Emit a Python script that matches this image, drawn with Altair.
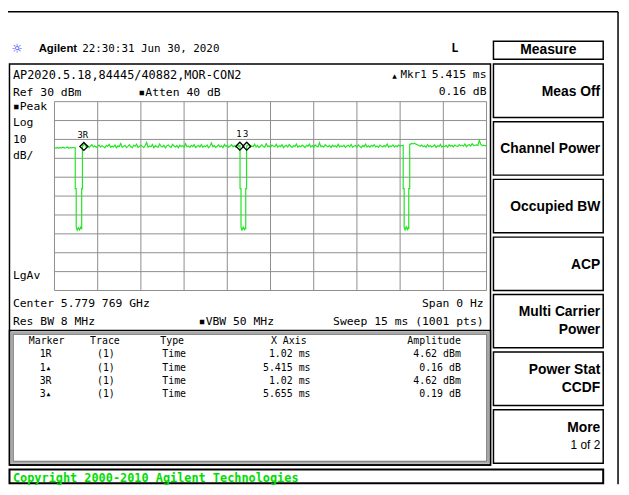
import altair as alt
import pandas as pd

SWEEP_MS = 15.0
# trace level (dBm) sampled every 0.05 ms; None where a burst gap replaces it
level_dbm = [
    5.6, 5.4, 5.8, 5.3, 5.7, 5.5, 5.9, 5.4, 5.6, 6.0, 5.3, 5.7, 5.5, 5.8, 5.6, None, None, None, None, None,
    6.9, 7.6, 6.1, 6.8, 5.7, 6.5, 7.2, 6.0, 6.6, 5.8, 6.4, 7.0, 5.9, 6.7, 6.2, 5.6, 6.9, 6.3, 7.4, 5.8,
    6.5, 6.0, 7.1, 5.5, 6.6, 6.2, 7.8, 5.9, 6.4, 6.8, 5.7, 6.3, 7.2, 6.1, 5.6, 6.9, 6.4, 7.5, 5.8, 6.2,
    7.0, 6.3, 5.7, 6.8, 8.4, 5.9, 6.5, 6.1, 7.3, 5.6, 6.7, 6.2, 5.9, 7.6, 6.4, 6.0, 6.9, 5.5, 6.6, 7.1,
    6.2, 5.8, 7.4, 6.5, 6.0, 6.8, 5.6, 7.0, 6.3, 6.7, 5.9, 7.7, 6.1, 6.5, 5.8, 6.9, 6.2, 7.2, 5.7, 6.4,
    6.8, 6.0, 7.3, 5.9, 6.6, 6.2, 7.0, 5.6, 6.5, 8.1, 6.1, 6.7, 5.8, 6.4, 7.1, 6.0, 6.6, 5.7, 7.4, 6.3,
    6.9, 5.9, 6.5, 7.2, 6.1, 6.7, 5.8, 7.0, 6.4, None, None, None, None, None, 6.8, 7.3, 5.9, 6.6, 6.2, 7.5,
    6.0, 6.8, 5.7, 6.4, 7.1, 6.2, 5.9, 7.8, 6.3, 6.6, 5.8, 7.0, 6.5, 6.1, 7.4, 5.9, 6.7, 6.2, 7.2, 5.6,
    6.5, 6.9, 6.0, 7.3, 6.4, 5.8, 6.8, 6.2, 7.6, 5.9, 6.6, 6.1, 7.0, 6.4, 5.7, 6.9, 6.3, 7.5, 6.0, 6.7,
    5.8, 7.1, 6.4, 6.0, 8.2, 6.2, 6.6, 5.9, 7.2, 6.5, 6.1, 6.8, 5.7, 7.0, 6.3, 6.7, 5.9, 7.4, 6.1, 6.6,
    6.2, 7.0, 5.8, 6.5, 6.9, 6.1, 7.3, 5.9, 6.4, 6.8, 6.0, 7.1, 6.3, 5.7, 6.7, 6.2, 7.5, 6.0, 6.6, 5.9,
    6.9, 6.3, 7.2, 6.0, 6.5, 5.8, 7.0, 6.4, 6.1, 6.8, 6.2, 7.6, 5.9, 6.6, 6.3, 7.1, 6.0, 6.7, 6.2, 7.0,
    6.4, 6.8, 6.9, None, None, None, None, 7.4, 7.9, 7.6, 8.0, 7.5, 7.2, 6.8, 6.4, 7.0, 6.1, 6.6, 5.9, 7.3,
    6.2, 6.8, 6.0, 6.5, 7.1, 5.8, 6.7, 6.3, 7.4, 6.0, 6.6, 6.2, 6.9, 5.9, 7.2, 6.4, 6.8, 6.1, 7.0, 6.5,
    6.2, 7.3, 6.6, 7.0, 6.4, 7.6, 6.1, 6.9, 7.2, 6.5, 7.8, 6.7, 6.9, 7.1, 6.8, 9.6, 7.4, 6.8, 7.0, 6.6,
    6.8,
]
# the three burst gaps (time ms, level dBm)
gap1_t = [0.721, 0.721, 0.755, 0.755, 0.79, 0.83, 0.87, 0.91, 0.945, 0.945, 0.971, 0.971]
gap1_v = [5.6, -16.0, -16.0, -36.4, -38.1, -36.7, -37.9, -36.5, -37.6, -16.0, -16.0, 6.9]
gap2_t = [6.442, 6.442, 6.476, 6.476, 6.51, 6.55, 6.59, 6.62, 6.64, 6.64, 6.669, 6.669]
gap2_v = [6.8, -16.0, -16.0, -36.6, -38.0, -36.4, -37.8, -36.9, -37.5, -16.0, -16.0, 6.5]
gap3_t = [12.106, 12.106, 12.14, 12.14, 12.17, 12.21, 12.25, 12.28, 12.30, 12.30, 12.333, 12.333]
gap3_v = [6.9, -16.0, -16.0, -36.5, -37.9, -36.3, -37.7, -36.6, -37.4, -16.0, -16.0, 7.4]

grid_ms = [0, 1.5, 3, 4.5, 6, 7.5, 9, 10.5, 12, 13.5, 15]
grid_dbm = [-70, -60, -50, -40, -30, -20, -10, 0, 10, 20, 30]

marker_ms = [1.02, 6.435, 6.675]
marker_dbm = [6.3, 6.4, 6.4]
marker_lbl = ["3R", "1", "3"]

tbl_marker = ["1R", "1▴", "3R", "3▴"]
tbl_trace = ["(1)", "(1)", "(1)", "(1)"]
tbl_type = ["Time", "Time", "Time", "Time"]
tbl_x = ["1.02 ms", "5.415 ms", "1.02 ms", "5.655 ms"]
tbl_amp = ["4.62 dBm", "0.16 dB", "4.62 dBm", "0.19 dB"]

softkeys = [["Meas Off"], ["Channel Power"], ["Occupied BW"], ["ACP"],
            ["Multi Carrier", "Power"], ["Power Stat", "CCDF"], ["More", "1 of 2"]]

# ---------------- build trace table ----------------
rows = []
for i, v in enumerate(level_dbm):
    if v is not None:
        rows.append((i * SWEEP_MS / 300, 0, v))
for gt, gv in ((gap1_t, gap1_v), (gap2_t, gap2_v), (gap3_t, gap3_v)):
    for j, (t, v) in enumerate(zip(gt, gv)):
        rows.append((t, j, v))
rows.sort(key=lambda r: (r[0], r[1]))
trace = pd.DataFrame({"t": [r[0] for r in rows], "v": [r[2] for r in rows],
                      "k": list(range(len(rows)))})
markers = pd.DataFrame({"t": marker_ms, "v": marker_dbm, "lbl": marker_lbl})

# ---------------- layout helpers ----------------
OX, OY = 8, 8
MONO = "DejaVu Sans Mono"
SANS = "Liberation Sans"
W, H = 620, 479

xs = alt.Scale(domain=[0, 15], range=[55 - OX, 492 - OX], nice=False, zero=False)
ys = alt.Scale(domain=[-70, 30], range=[291 - OY, 100 - OY], nice=False, zero=False)

base = alt.Chart(pd.DataFrame({"d": [0]}))


def T(s, x, y, size=11.5, align="left", font=MONO, weight="normal", color="black"):
    return base.mark_text(text=s, align=align, baseline="middle", font=font,
                          fontSize=size, fontWeight=weight, color=color).encode(
        x=alt.value(x - OX), y=alt.value(y - OY))


def R(x1, y1, x2, y2, sw=1.5, color="black"):
    return base.mark_rect(fillOpacity=0, stroke=color, strokeWidth=sw).encode(
        x=alt.value(x1 - OX), x2=alt.value(x2 - OX), y=alt.value(y1 - OY), y2=alt.value(y2 - OY))


def L(x1, y1, x2, y2, sw=1.5, color="black"):
    return base.mark_rule(color=color, strokeWidth=sw).encode(
        x=alt.value(x1), x2=alt.value(x2), y=alt.value(y1), y2=alt.value(y2))


layers = []
# outer screen lines
layers.append(L(0, 1, W - 3, 1, 1.5))
layers.append(L(W - 3, 1, W - 3, H, 1.5))
# main display box and table box
layers.append(R(9.5, 62, 496, 467.5, 1.5))
layers.append(R(9.5, 331.5, 496, 467.5, 1.5))
layers.append(R(11.8, 333.8, 493.7, 465.2, 2, "#a8a8a8"))
layers.append(R(13.3, 335.3, 492.2, 463.7, 0.8, "#444444"))
# right column
layers.append(R(499, 39, 610, 57, 1.5))
tops = [62, 120.3, 178.6, 237, 295, 353.3, 411.7]
for top in tops:
    layers.append(R(499, top, 610, top + 54, 1.5))
# copyright bar
layers.append(R(9.5, 472, 610, 486, 2))

# graticule
layers.append(alt.Chart(pd.DataFrame({"g": grid_ms})).mark_rule(color="#8e8e8e", strokeWidth=1).encode(
    x=alt.X("g:Q", scale=xs, axis=None), y=alt.value(100 - OY), y2=alt.value(291 - OY)))
layers.append(alt.Chart(pd.DataFrame({"g": grid_dbm})).mark_rule(color="#8e8e8e", strokeWidth=1).encode(
    y=alt.Y("g:Q", scale=ys, axis=None), x=alt.value(55 - OX), x2=alt.value(492 - OX)))

# trace
layers.append(alt.Chart(trace).mark_line(color="#22e622", strokeWidth=1.2).encode(
    x=alt.X("t:Q", scale=xs, axis=None), y=alt.Y("v:Q", scale=ys, axis=None), order="k:Q"))
# markers
layers.append(alt.Chart(markers).mark_point(shape="diamond", size=64, filled=False,
                                            color="black", strokeWidth=1.3, opacity=1).encode(
    x=alt.X("t:Q", scale=xs, axis=None), y=alt.Y("v:Q", scale=ys, axis=None)))
layers.append(alt.Chart(markers).mark_text(dy=-12, dx=-1, fontSize=9, font=MONO, color="black").encode(
    x=alt.X("t:Q", scale=xs, axis=None), y=alt.Y("v:Q", scale=ys, axis=None), text="lbl:N"))

# header
layers.append(T("☼", 17, 47, 13, "center", "DejaVu Sans", "bold", "#3a3aff"))
layers.append(T("Agilent", 39, 47, 11.5, "left", SANS, "bold"))
layers.append(T("22:30:31  Jun 30, 2020", 83, 47, 11))
layers.append(T("L", 460, 46, 12, "center", MONO, "bold"))
layers.append(T("Measure", 554.5, 48, 14, "center", SANS, "bold"))

# annotations inside display
layers.append(T("AP2020.5.18,84445/40882,MOR-CON2", 13, 73, 12))
layers.append(T("▲", 399, 74, 6, "center", "DejaVu Sans"))
layers.append(T("Mkr1", 405, 73, 11))
layers.append(T("5.415 ms", 492, 73, 11.5, "right"))
layers.append(T("0.16 dB", 492, 90, 11.5, "right"))
layers.append(T("Ref 30 dBm", 13, 91))
layers.append(T("▪Atten 40 dB", 140, 91))
layers.append(T("▪Peak", 13, 105))
layers.append(T("Log", 13, 122))
layers.append(T("10", 13, 139))
layers.append(T("dB/", 13, 155))
layers.append(T("LgAv", 13, 276))
layers.append(T("Center 5.779 769 GHz", 13, 305))
layers.append(T("Span 0 Hz", 489, 305, 11.5, "right"))
layers.append(T("Res BW 8 MHz", 13, 323))
layers.append(T("▪VBW 50 MHz", 201, 323))
layers.append(T("Sweep 15 ms (1001 pts)", 489, 323, 11.5, "right"))

# marker table
layers.append(T("Marker", 29, 342, 10))
layers.append(T("Trace", 91, 342, 10))
layers.append(T("Type", 162, 342, 10))
layers.append(T("X Axis", 310, 342, 10, "right"))
layers.append(T("Amplitude", 466, 342, 10, "right"))
row_y = [355.7, 369, 382.3, 395.5]
for i, yy in enumerate(row_y):
    layers.append(T(tbl_marker[i], 40, yy, 10))
    layers.append(T(tbl_trace[i], 98, yy, 10))
    layers.append(T(tbl_type[i], 164, yy, 10))
    layers.append(T(tbl_x[i], 314, yy, 10, "right"))
    layers.append(T(tbl_amp[i], 466, yy, 10, "right"))

# softkey labels
for top, lines in zip(tops, softkeys):
    if len(lines) == 1:
        layers.append(T(lines[0], 607, top + 28, 14, "right", SANS, "bold"))
    else:
        second_bold = lines[1] != "1 of 2"
        layers.append(T(lines[0], 607, top + 18, 14, "right", SANS, "bold"))
        layers.append(T(lines[1], 607, top + 36, 14 if second_bold else 12, "right", SANS,
                        "bold" if second_bold else "normal"))

layers.append(T("Copyright 2000-2010 Agilent Technologies", 13, 480.5, 12, "left", MONO, "bold", "#00dd00"))

chart = alt.layer(*layers).properties(
    width=W, height=H, padding=0,
    autosize=alt.AutoSizeParams(type="none"),
    background="white",
).configure_view(stroke=None)

chart.save("out.html", embed_options={"renderer": "svg", "actions": False})
